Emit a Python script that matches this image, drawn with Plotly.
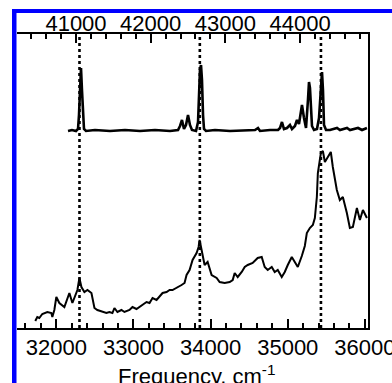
import plotly.graph_objects as go

# Lower spectrum (bottom axis, cm-1) and intensity (arb. units)
bottom_freq = [31727, 31753, 31779, 31818, 31883, 31935, 31948, 31974, 32000, 32039, 32104, 32169,
               32208, 32273, 32299, 32325, 32364, 32403, 32455, 32494, 32532, 32597, 32649, 32688,
               32727, 32753, 32792, 32844, 32883, 32948, 32987, 33039, 33078, 33117, 33169, 33208,
               33247, 33299, 33338, 33377, 33429, 33468, 33506, 33558, 33623, 33662, 33688, 33727,
               33766, 33818, 33844, 33857, 33883, 33922, 33961, 34013, 34078, 34117, 34182, 34247,
               34286, 34312, 34351, 34403, 34442, 34481, 34545, 34610, 34662, 34701, 34740, 34792,
               34831, 34870, 34922, 34961, 35000, 35052, 35091, 35130, 35182, 35221, 35247, 35286,
               35325, 35351, 35377, 35390, 35429, 35455, 35481, 35520, 35558, 35584, 35636, 35675,
               35714, 35766, 35805, 35844, 35896, 35935, 35974, 36026]
bottom_int = [7, 11, 10, 14, 16, 15, 11, 18, 31, 25, 21, 35,
              25, 38, 50, 41, 36, 38, 35, 20, 18, 16, 15, 16,
              15, 20, 16, 18, 16, 18, 21, 19, 21, 23, 26, 25,
              30, 28, 31, 35, 36, 38, 38, 40, 43, 45, 53, 58,
              68, 75, 81, 88, 78, 63, 66, 53, 50, 46, 45, 46,
              48, 55, 51, 56, 61, 63, 65, 70, 71, 61, 58, 61,
              56, 58, 51, 56, 63, 71, 66, 61, 72, 82, 95, 100,
              103, 110, 131, 155, 175, 177, 166, 171, 176, 161, 138, 128,
              131, 115, 100, 101, 120, 108, 118, 110]

# Upper spectrum (top axis, cm-1)
top_freq = [40893, 40946, 41000, 41027, 41040, 41054, 41067, 41080, 41094, 41107, 41134, 41254,
            41455, 41656, 41857, 42058, 42259, 42366, 42393, 42419, 42446, 42473, 42500, 42526,
            42553, 42607, 42634, 42647, 42660, 42674, 42687, 42701, 42714, 42741, 42861, 43062,
            43263, 43397, 43437, 43464, 43598, 43705, 43732, 43758, 43785, 43825, 43865, 43892,
            43932, 43959, 43986, 44013, 44026, 44053, 44080, 44106, 44120, 44133, 44160, 44187,
            44227, 44254, 44281, 44294, 44307, 44321, 44348, 44401, 44495, 44535, 44629, 44669,
            44776, 44830, 44896]
top_int = [197, 198, 197, 199, 213, 243, 260, 238, 210, 199, 197, 198,
           197, 198, 197, 198, 197, 198, 202, 208, 199, 203, 213, 203,
           198, 197, 206, 233, 258, 263, 248, 213, 199, 197, 198, 197,
           198, 198, 200, 197, 198, 198, 200, 206, 199, 200, 203, 199,
           202, 208, 204, 216, 223, 210, 200, 228, 246, 240, 202, 198,
           199, 210, 248, 256, 238, 203, 198, 198, 200, 198, 200, 198,
           200, 198, 200]

marker_freq = [32300, 33860, 35430]

bottom_ticks = [32000, 33000, 34000, 35000, 36000]
top_ticks = [41000, 42000, 43000, 44000]

FAMILY = "Liberation Sans, Arial, sans-serif"
font = dict(family=FAMILY, size=22, color="black")
TICK_SIZE = 22

fig = go.Figure()
fig.add_trace(go.Scatter(x=bottom_freq, y=bottom_int, mode="lines",
                         line=dict(color="black", width=2), xaxis="x", yaxis="y",
                         showlegend=False, hoverinfo="skip"))
fig.add_trace(go.Scatter(x=top_freq, y=top_int, mode="lines",
                         line=dict(color="black", width=2.6), xaxis="x2", yaxis="y",
                         showlegend=False, hoverinfo="skip"))

for f in marker_freq:
    fig.add_shape(type="line", xref="x", yref="paper", x0=f, x1=f, y0=0, y1=1,
                  line=dict(color="black", width=2.6, dash="dot"))

# blue frame pieces
fig.add_shape(type="rect", xref="paper", yref="paper",
              x0=-5/351, x1=-0.5/351, y0=-60/294, y1=1+25/294,
              line=dict(width=0), fillcolor="#0000FF", layer="above")
fig.add_shape(type="rect", xref="paper", yref="paper",
              x0=-5/351, x1=1+30/351, y0=1+21/294, y1=1+25/294,
              line=dict(width=0), fillcolor="#0000FF", layer="above")

fig.add_annotation(text="Frequency, cm<sup>-1</sup>", xref="paper", yref="paper",
                   x=(197-17)/351, y=-(359-328)/294, xanchor="center", yanchor="top",
                   showarrow=False, font=font)


def axis_style():
    return dict(showline=True, linecolor="black", linewidth=2, showgrid=False,
                zeroline=False, ticks="inside", ticklen=9, tickwidth=2,
                tickcolor="black", tickfont=dict(family=FAMILY, size=TICK_SIZE, color="black"),
                automargin=False, ticklabeloverflow="allow", tickangle=0,
                minor=dict(dtick=200, ticks="inside", ticklen=5, tickwidth=2,
                           tickcolor="black", showgrid=False))


fig.update_layout(
    width=392, height=383,
    margin=dict(l=17, r=24, t=34, b=55, autoexpand=False),
    paper_bgcolor="white", plot_bgcolor="white",
    font=dict(family=FAMILY, size=22, color="black"),
    xaxis=dict(range=[31490, 36040], tickvals=bottom_ticks,
               ticktext=[str(t) for t in bottom_ticks], ticklabelstandoff=-1,
               **axis_style()),
    xaxis2=dict(range=[40210, 44910], overlaying="x", side="top", anchor="y",
                tickvals=top_ticks, ticktext=[str(t) for t in top_ticks],
                ticklabelstandoff=-8, **axis_style()),
    yaxis=dict(range=[0, 294], side="right", showline=True, linecolor="black",
               linewidth=2, showticklabels=False, ticks="", showgrid=False,
               zeroline=False, automargin=False),
)
fig.layout.xaxis.minor.tick0 = 32000
fig.layout.xaxis2.minor.tick0 = 41000

fig.write_html("out.html")
